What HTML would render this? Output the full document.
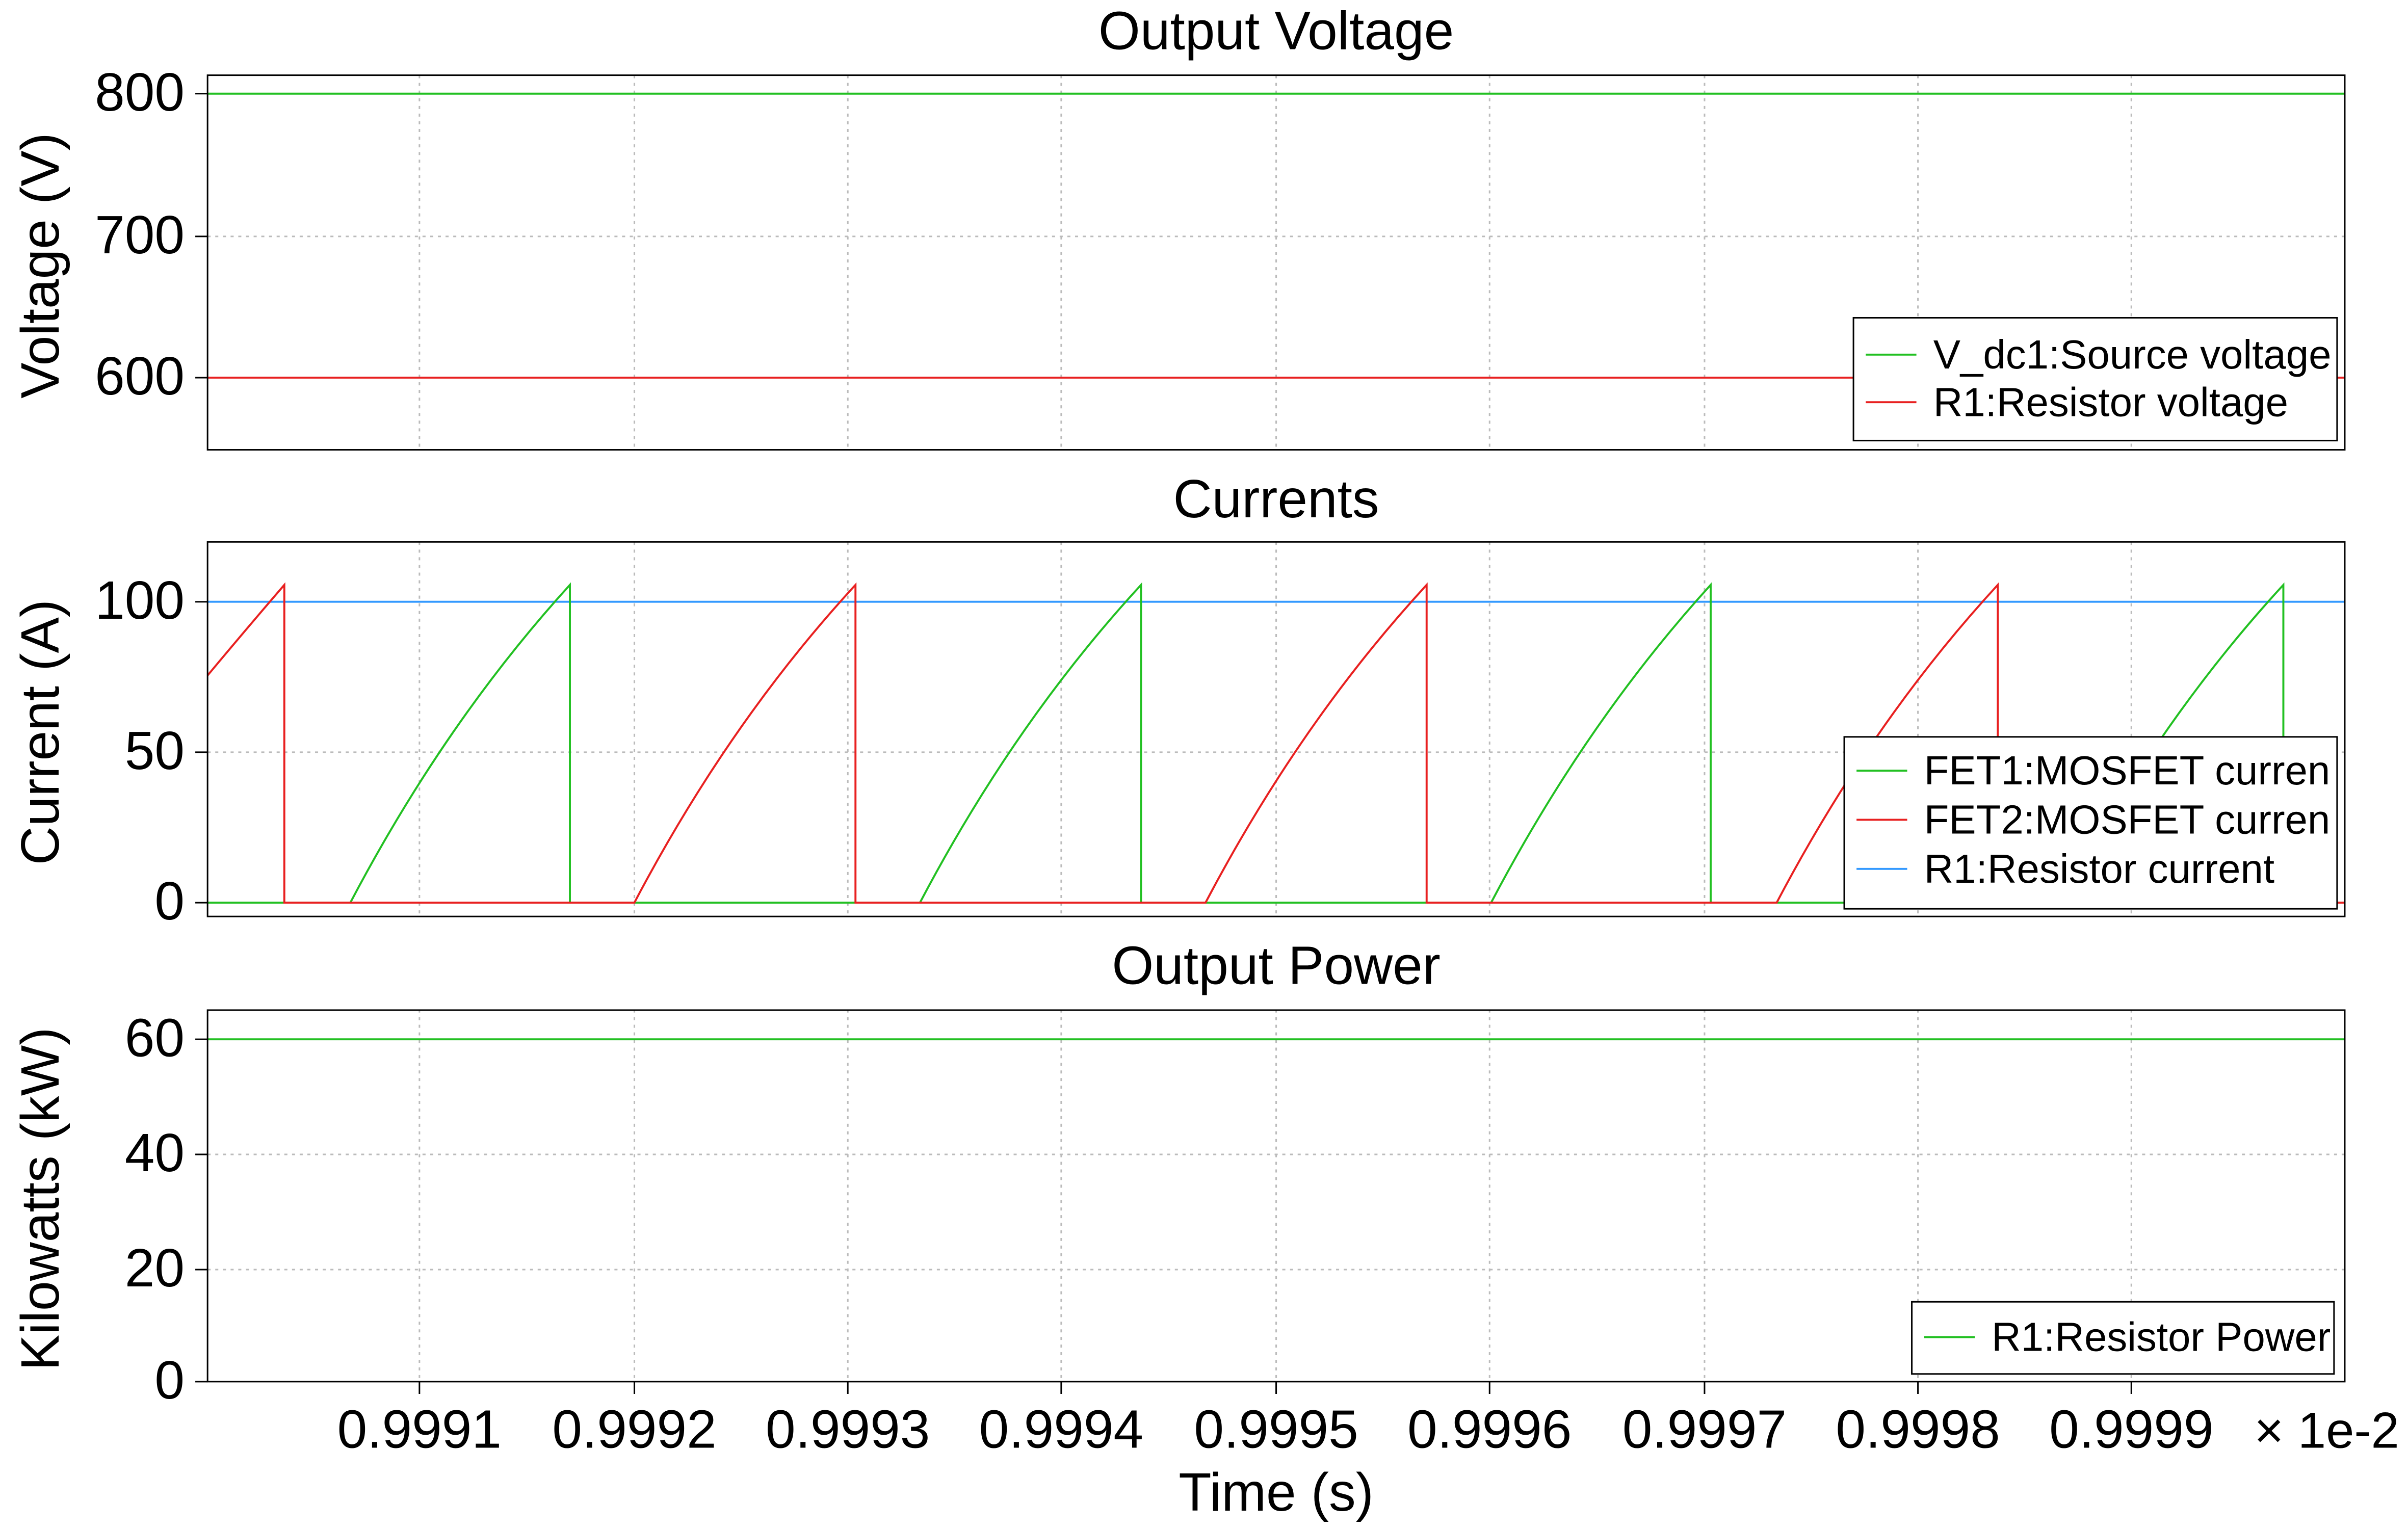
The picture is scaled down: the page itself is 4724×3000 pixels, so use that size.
<!DOCTYPE html>
<html><head><meta charset="utf-8"><style>
html,body{margin:0;padding:0;background:#fff;}
svg{display:block;}
text{font-family:"Liberation Sans",sans-serif;fill:#000;}
</style></head><body>
<svg width="4724" height="3000" viewBox="0 0 1568 996" xmlns="http://www.w3.org/2000/svg">
<rect width="1568" height="996" fill="#fff"/>
<defs>
<clipPath id="c1"><rect x="135" y="49" width="1392" height="244"/></clipPath>
<clipPath id="c2"><rect x="135" y="353" width="1392" height="244"/></clipPath>
<clipPath id="c3"><rect x="135" y="658" width="1392" height="242"/></clipPath>
<clipPath id="lc"><rect x="1200" y="200" width="320" height="700"/></clipPath>
</defs>
<g stroke="#bbb" stroke-width="1" stroke-dasharray="2,3">
<g id="vg">
<line x1="273" y1="49" x2="273" y2="293"/><line x1="413" y1="49" x2="413" y2="293"/><line x1="552" y1="49" x2="552" y2="293"/><line x1="691" y1="49" x2="691" y2="293"/><line x1="831" y1="49" x2="831" y2="293"/><line x1="970" y1="49" x2="970" y2="293"/><line x1="1110" y1="49" x2="1110" y2="293"/><line x1="1249" y1="49" x2="1249" y2="293"/><line x1="1388" y1="49" x2="1388" y2="293"/>
</g>
<use href="#vg" transform="translate(0,304)"/>
<use href="#vg" transform="translate(0,609) scale(1,0.992)"/>
<line x1="135" y1="61" x2="1527" y2="61"/><line x1="135" y1="154" x2="1527" y2="154"/><line x1="135" y1="246" x2="1527" y2="246"/>
<line x1="135" y1="392" x2="1527" y2="392"/><line x1="135" y1="490" x2="1527" y2="490"/><line x1="135" y1="588" x2="1527" y2="588"/>
<line x1="135" y1="677" x2="1527" y2="677"/><line x1="135" y1="752" x2="1527" y2="752"/><line x1="135" y1="827" x2="1527" y2="827"/>
</g>
<g clip-path="url(#c1)" fill="none" stroke-width="1.3">
<line x1="135" y1="61" x2="1527" y2="61" stroke="#22c022"/>
<line x1="135" y1="246" x2="1527" y2="246" stroke="#e82020"/>
</g>
<g clip-path="url(#c2)" fill="none" stroke-width="1.3">
<line x1="135" y1="392" x2="1527" y2="392" stroke="#3399ff"/>
<path stroke="#22c022" d="M135,588 H228 Q290,470 371,381 V588 H599 Q661,470 743,381 V588 H971 Q1033,470 1114,381 V588 H1343 Q1405,470 1487,381 V588 H1527"/>
<path stroke="#e82020" d="M135,440 Q160,410 185,381 V588 H413 Q475,470 557,381 V588 H785 Q847,470 929,381 V588 H1157 Q1219,470 1301,381 V588 H1527"/>
</g>
<g clip-path="url(#c3)" fill="none" stroke-width="1.3">
<line x1="135" y1="677" x2="1527" y2="677" stroke="#22c022"/>
</g>
<g fill="none" stroke="#000" stroke-width="1">
<rect x="135" y="49" width="1392" height="244"/>
<rect x="135" y="353" width="1392" height="244"/>
<rect x="135" y="658" width="1392" height="242"/>
<path d="M127,61H135M127,154H135M127,246H135M127,392H135M127,490H135M127,588H135M127,677H135M127,752H135M127,827H135M127,900H135"/>
<path d="M273,900V908M413,900V908M552,900V908M691,900V908M831,900V908M970,900V908M1110,900V908M1249,900V908M1388,900V908"/>
</g>
<g stroke="#000" stroke-width="1" fill="#fff">
<rect x="1207" y="207" width="315" height="80"/>
<rect x="1201" y="480" width="321" height="112"/>
<rect x="1245" y="848" width="275" height="47"/>
</g>
<g stroke-width="1.3">
<line x1="1215" y1="231" x2="1248" y2="231" stroke="#22c022"/>
<line x1="1215" y1="262" x2="1248" y2="262" stroke="#e82020"/>
<line x1="1209" y1="502" x2="1242" y2="502" stroke="#22c022"/>
<line x1="1209" y1="534" x2="1242" y2="534" stroke="#e82020"/>
<line x1="1209" y1="566" x2="1242" y2="566" stroke="#3399ff"/>
<line x1="1253" y1="871" x2="1286" y2="871" stroke="#22c022"/>
</g>
<g font-size="26.5" clip-path="url(#lc)">
<text x="1259" y="240">V_dc1:Source voltage</text>
<text x="1259" y="271">R1:Resistor voltage</text>
<text x="1253" y="511">FET1:MOSFET curren</text>
<text x="1253" y="543">FET2:MOSFET curren</text>
<text x="1253" y="575">R1:Resistor current</text>
<text x="1297" y="880">R1:Resistor Power</text>
</g>
<g font-size="35" text-anchor="middle">
<text x="831" y="32">Output Voltage</text>
<text x="831" y="337">Currents</text>
<text x="831" y="641">Output Power</text>
<text x="831" y="984">Time (s)</text>
</g>
<g font-size="35" text-anchor="end">
<text x="120" y="72">800</text><text x="120" y="165">700</text><text x="120" y="257">600</text>
<text x="120" y="403">100</text><text x="120" y="501">50</text><text x="120" y="599">0</text>
<text x="120" y="688">60</text><text x="120" y="763">40</text><text x="120" y="838">20</text><text x="120" y="911">0</text>
</g>
<g font-size="35" text-anchor="middle">
<text x="273" y="943">0.9991</text><text x="413" y="943">0.9992</text><text x="552" y="943">0.9993</text><text x="691" y="943">0.9994</text><text x="831" y="943">0.9995</text><text x="970" y="943">0.9996</text><text x="1110" y="943">0.9997</text><text x="1249" y="943">0.9998</text><text x="1388" y="943">0.9999</text>
</g>
<text x="1468" y="943" font-size="33">× 1e-2</text>
<g font-size="35" text-anchor="middle">
<text transform="translate(38,173) rotate(-90)">Voltage (V)</text>
<text transform="translate(38,477) rotate(-90)">Current (A)</text>
<text transform="translate(38,781) rotate(-90)">Kilowatts (kW)</text>
</g>
</svg>
</body></html>
